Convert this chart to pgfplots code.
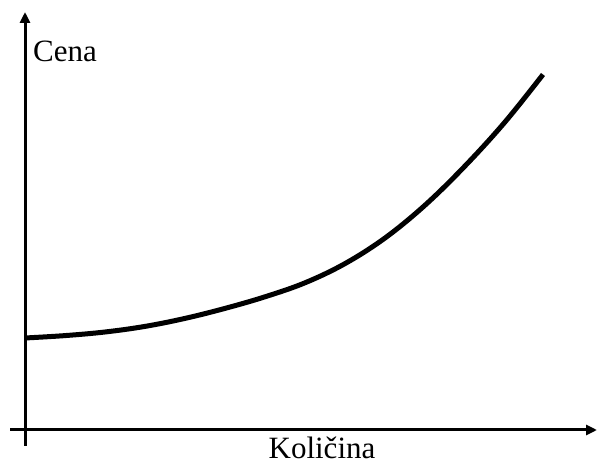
\documentclass[border=0pt]{standalone}
\usepackage{fontspec}
\setmainfont{Liberation Serif}
\usepackage{pgfplots}
\pgfplotsset{compat=1.18}
\usetikzlibrary{arrows.meta}
\begin{document}
\begin{tikzpicture}
\begin{axis}[
  scale only axis,
  width=587pt, height=434pt,
  xmin=-15, xmax=572, ymin=-16, ymax=418,
  axis lines=middle,
  axis line style={line width=3pt, -{Triangle[length=11pt,width=10pt]}},
  xtick=\empty, ytick=\empty,
  clip=false,
]
\addplot[line width=5pt, smooth, tension=0.6, line cap=butt] coordinates {
(0,92) (40,94.4) (80,98) (120,103.6) (160,111.6) (200,121.6) (240,133.2) (280,147.2) (320,166.4) (360,192) (400,224.8) (440,264) (480,308) (518,355.5)
};
\node[anchor=base west, inner sep=0pt, font=\fontsize{31}{31}\selectfont] at (axis cs:8,368) {Cena};
\node[anchor=base, inner sep=0pt, font=\fontsize{31}{31}\selectfont] at (axis cs:297,-28.5) {Količina};
\end{axis}
\pgfresetboundingbox
\path[use as bounding box] (-10pt,-17pt) rectangle (587pt,446pt);
\end{tikzpicture}
\end{document}
